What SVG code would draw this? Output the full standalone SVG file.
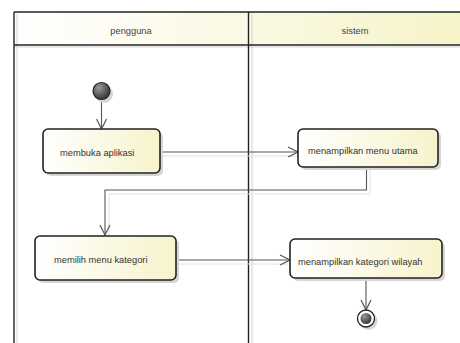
<svg xmlns="http://www.w3.org/2000/svg" width="460" height="343" viewBox="0 0 460 343">
  <defs>
    <linearGradient id="hdr" x1="0" y1="0" x2="1" y2="0">
      <stop offset="0" stop-color="#ffffff"/>
      <stop offset="1" stop-color="#f6f3c8"/>
    </linearGradient>
    <linearGradient id="act" x1="0" y1="0" x2="1" y2="0">
      <stop offset="0" stop-color="#ffffff"/>
      <stop offset="1" stop-color="#f7f3cc"/>
    </linearGradient>
    <radialGradient id="dot" cx="0.35" cy="0.3" r="0.8">
      <stop offset="0" stop-color="#9a9a9a"/>
      <stop offset="1" stop-color="#2a2a2a"/>
    </radialGradient>
    <marker id="open" viewBox="0 0 12 12" refX="11" refY="6" markerWidth="12" markerHeight="12" markerUnits="userSpaceOnUse" orient="auto">
      <path d="M1,1 L11,6 L1,11" fill="none" stroke="#555" stroke-width="1.2"/>
    </marker>
  </defs>
  <style>
    .lbl { font-family: "Liberation Sans", Arial, sans-serif; font-size: 9.3px; fill: #333; }
    .hd { font-family: "Liberation Sans", Arial, sans-serif; font-size: 9.3px; fill: #444; text-anchor: middle; }
    .box { fill: url(#act); stroke: #222; stroke-width: 1.6; }
    .shd { fill: #d6d6d6; }
    .edge { fill: none; stroke: #555; stroke-width: 1.1; marker-end: url(#open); }
    .eshd { fill: none; stroke: #e2e2e2; stroke-width: 1.1; }
  </style>

  <!-- swimlane pool -->
  <g id="lanes">
    <rect x="14" y="12" width="450" height="33" fill="url(#hdr)"/>
    <line x1="17" y1="14" x2="17" y2="343" stroke="#d0d0d0" stroke-width="1"/>
    <line x1="252" y1="14" x2="252" y2="343" stroke="#d0d0d0" stroke-width="1"/>
    <line x1="14" y1="47" x2="460" y2="47" stroke="#d4d4d4" stroke-width="1"/>
    <line x1="14" y1="12" x2="460" y2="12" stroke="#222" stroke-width="1.4"/>
    <line x1="14" y1="45" x2="460" y2="45" stroke="#222" stroke-width="1.4"/>
    <line x1="14" y1="12" x2="14" y2="343" stroke="#222" stroke-width="1.4"/>
    <line x1="248.5" y1="12" x2="248.5" y2="343" stroke="#222" stroke-width="1.4"/>
    <text class="hd" x="131" y="34">pengguna</text>
    <text class="hd" x="355" y="34">sistem</text>
  </g>

  <!-- connectors -->
  <g id="connectors">
    <polyline class="eshd" points="162,156 298,156"/>
    <polyline class="eshd" points="370,170 370,194 109,194 109,236"/>
    <polyline class="eshd" points="178,264 290,264"/>
    <path class="edge" d="M101.5,100 L101.5,129"/>
    <path class="edge" d="M160,152 L298,152"/>
    <path class="edge" d="M366.5,167 L366.5,190 L105,190 L105,235"/>
    <path class="edge" d="M176,260 L290,260"/>
    <path class="edge" d="M366,278 L366,310"/>
  </g>

  <g id="start">
    <circle cx="104" cy="94" r="9" class="shd"/>
    <circle cx="101.5" cy="91" r="8.5" fill="url(#dot)" stroke="#222" stroke-width="1.2"/>
  </g>

  <g id="membuka-aplikasi">
    <rect x="46" y="132" width="117" height="44" rx="5" class="shd"/>
    <rect x="43" y="129" width="117" height="44" rx="5" class="box"/>
    <text class="lbl" x="60" y="156">membuka aplikasi</text>
  </g>

  <g id="menampilkan-menu-utama">
    <rect x="301" y="132" width="140" height="38" rx="5" class="shd"/>
    <rect x="298" y="129" width="140" height="38" rx="5" class="box"/>
    <text class="lbl" x="308" y="154">menampilkan menu utama</text>
  </g>

  <g id="memilih-menu-kategori">
    <rect x="38" y="239" width="141" height="44" rx="5" class="shd"/>
    <rect x="35" y="236" width="141" height="44" rx="5" class="box"/>
    <text class="lbl" x="54" y="263">memilih menu kategori</text>
  </g>

  <g id="menampilkan-kategori-wilayah">
    <rect x="293" y="242" width="152" height="39" rx="5" class="shd"/>
    <rect x="290" y="239" width="152" height="39" rx="5" class="box"/>
    <text class="lbl" x="298" y="265">menampilkan kategori wilayah</text>
  </g>

  <g id="end">
    <circle cx="368.5" cy="321" r="9" class="shd"/>
    <circle cx="366" cy="318.5" r="8.5" fill="#fff" stroke="#222" stroke-width="1.3"/>
    <circle cx="366" cy="318.5" r="5.5" fill="url(#dot)"/>
  </g>
</svg>
